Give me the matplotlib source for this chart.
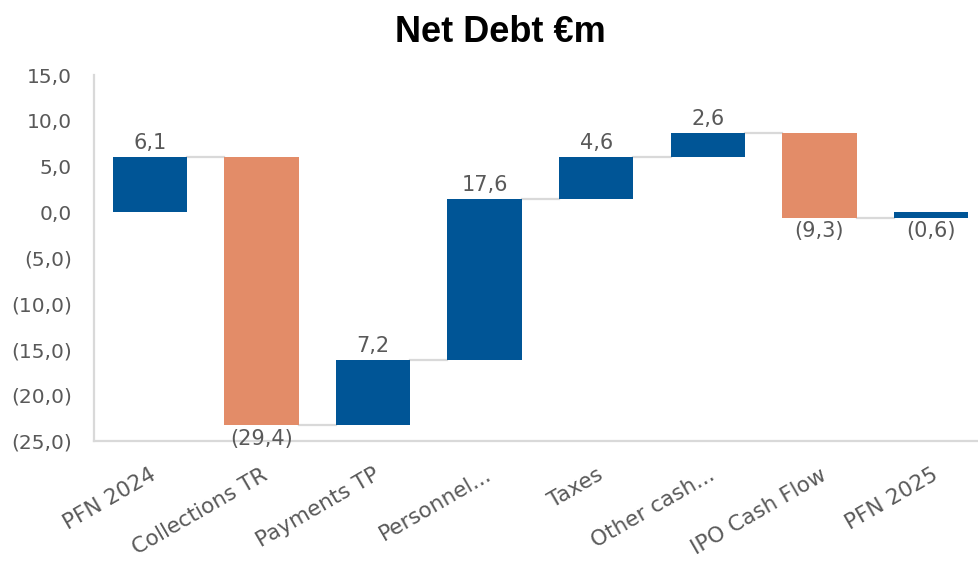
import numpy as np
import matplotlib.pyplot as plt

categories = ["PFN 2024", "Collections TR", "Payments TP", "Personnel...",
              "Taxes", "Other cash...", "IPO Cash Flow", "PFN 2025"]
values = [6.1, -29.4, 7.2, 17.6, 4.6, 2.6, -9.3, -0.6]
is_total = [True, False, False, False, False, False, False, True]

BLUE = "#005596"
ORANGE = "#E38C68"
GRAY = "#595959"
FONT = "DejaVu Sans"


def fmt(v):
    s = ("%.1f" % abs(v)).replace(".", ",")
    return "(%s)" % s if v < 0 else s


# bases of the floating bars
bottoms = []
run = 0.0
for v, tot in zip(values, is_total):
    if tot:
        bottoms.append(0.0)
        run = v
    else:
        bottoms.append(run)
        run += v
tops = [b + v for b, v in zip(bottoms, values)]

colors = []
for v, tot in zip(values, is_total):
    colors.append(BLUE if (tot or v > 0) else ORANGE)

fig = plt.figure(figsize=(9.79, 5.61), dpi=100)
ax = fig.add_axes([0.096, 0.214, 0.912, 0.652])

x = np.arange(len(categories))
w = 0.665
ax.bar(x, values, bottom=bottoms, width=w, color=colors, zorder=3)

# connectors
for i in range(len(x) - 1):
    lvl = tops[i]
    ax.plot([x[i] + w / 2, x[i + 1] - w / 2], [lvl, lvl], color="#D9D9D9",
            lw=1.6, zorder=2)

# data labels
for i, v in enumerate(values):
    hi = max(bottoms[i], tops[i])
    lo = min(bottoms[i], tops[i])
    if v >= 0:
        ax.text(x[i], hi + 0.4, fmt(v), ha="center", va="bottom",
                fontsize=15, color=GRAY, family=FONT)
    else:
        ax.text(x[i], lo - 0.4, fmt(v), ha="center", va="top",
                fontsize=15, color=GRAY, family=FONT, zorder=4)

ax.set_xlim(-0.5, len(x) - 0.5)
ax.set_ylim(-25, 15)
ax.set_yticks(np.arange(-25, 16, 5))
ax.set_yticklabels([fmt(t) for t in np.arange(-25, 16, 5)])
ax.set_xticks(x)
ax.set_xticklabels(categories, rotation=30, ha="right", rotation_mode="anchor")

for lab in ax.get_yticklabels():
    lab.set_family(FONT)
    lab.set_fontsize(14.5)
    lab.set_color(GRAY)
for lab in ax.get_xticklabels():
    lab.set_family(FONT)
    lab.set_fontsize(15.5)
    lab.set_color(GRAY)

ax.tick_params(length=0)
ax.tick_params(axis="y", pad=16)
ax.tick_params(axis="x", pad=17)
for s in ["top", "right"]:
    ax.spines[s].set_visible(False)
for s in ["left", "bottom"]:
    ax.spines[s].set_color("#D9D9D9")
    ax.spines[s].set_linewidth(1.6)

fig.suptitle("Net Debt €m", x=0.511, y=0.974, fontsize=26, fontweight="bold",
             family="Liberation Sans")

fig.savefig("out.png", dpi=100)
